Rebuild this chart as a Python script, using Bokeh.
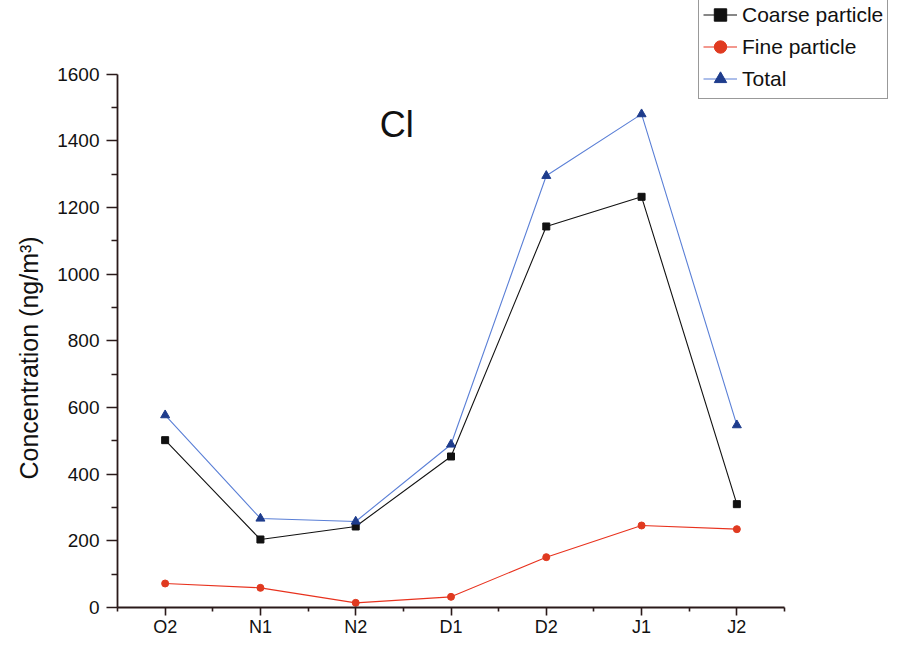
from bokeh.plotting import figure
from bokeh.models import FixedTicker, Range1d, Legend, LegendItem, Label, Title
from bokeh.embed import file_html
from bokeh.resources import INLINE

categories = ["O2", "N1", "N2", "D1", "D2", "J1", "J2"]
coarse = [502, 204, 243, 453, 1143, 1232, 310]
fine = [72, 59, 14, 32, 151, 246, 235]
total = [577, 267, 258, 489, 1295, 1480, 547]
y_ticks = [0, 200, 400, 600, 800, 1000, 1200, 1400, 1600]
y_minor = [100, 300, 500, 700, 900, 1100, 1300, 1500]

xs = list(range(1, len(categories) + 1))

# ---- layout (pixels) ----
W, H = 888, 639
LEFT = 117            # y axis position
BOTTOM_BORDER = 29    # space below x axis
AX_BOTTOM = H - BOTTOM_BORDER   # pixel of y = 0
AX_TOP = 74           # pixel of y = 1600
AX_RIGHT = 784        # pixel of x = 7.5
frame_h = AX_BOTTOM
frame_w = W - LEFT
px_per_y = (AX_BOTTOM - AX_TOP) / 1600.0
px_per_x = (AX_RIGHT - LEFT) / float(len(categories))
y_end = frame_h / px_per_y
x_end = 0.5 + frame_w / px_per_x

p = figure(width=W, height=H, output_backend="svg", toolbar_location=None,
           x_range=Range1d(0.5, x_end), y_range=Range1d(0, y_end),
           min_border_left=LEFT, min_border_right=0, min_border_top=0,
           min_border_bottom=BOTTOM_BORDER)
p.outline_line_color = None
p.xgrid.visible = False
p.ygrid.visible = False
p.background_fill_color = "white"
p.border_fill_color = "white"

FONT = "Liberation Sans"
AX = "#2a1a1a"

# x axis
p.xaxis.bounds = (0.5, len(categories) + 0.5)
p.xaxis.ticker = FixedTicker(ticks=xs, minor_ticks=[x + 0.5 for x in range(0, len(categories) + 1)])
p.xaxis.major_label_overrides = {x: c for x, c in zip(xs, categories)}
p.xaxis.major_label_text_font = FONT
p.xaxis.major_label_text_font_size = "18px"
p.xaxis.major_label_text_color = "#111"
p.xaxis.major_label_standoff = 1
p.xaxis.major_tick_out = 8
p.xaxis.major_tick_in = 0
p.xaxis.minor_tick_out = 4
p.xaxis.minor_tick_in = 0
p.xaxis.axis_line_width = 1.8
p.xaxis.major_tick_line_width = 1.6
p.xaxis.minor_tick_line_width = 1.6
p.xaxis.axis_line_color = AX
p.xaxis.major_tick_line_color = AX
p.xaxis.minor_tick_line_color = AX

# y axis
p.yaxis.bounds = (0, 1600)
p.yaxis.ticker = FixedTicker(ticks=y_ticks, minor_ticks=y_minor)
p.yaxis.major_label_text_font = FONT
p.yaxis.major_label_text_font_size = "19px"
p.yaxis.major_label_text_color = "#111"
p.yaxis.major_label_standoff = 7
p.yaxis.major_tick_out = 11
p.yaxis.major_tick_in = 0
p.yaxis.minor_tick_out = 6
p.yaxis.minor_tick_in = 0
p.yaxis.axis_line_width = 1.8
p.yaxis.major_tick_line_width = 1.6
p.yaxis.minor_tick_line_width = 1.6
p.yaxis.axis_line_color = AX
p.yaxis.major_tick_line_color = AX
p.yaxis.minor_tick_line_color = AX

# y axis title (as a side title so it can be placed along the drawn axis)
ytitle = Title(text="Concentration (ng/m³)", align="left", offset=128, standoff=24,
               text_font=FONT, text_font_size="25px", text_font_style="normal",
               text_color="#111")
p.add_layout(ytitle, "left")

# series
lc = p.line(xs, coarse, line_color="#111111", line_width=1.1)
mc = p.scatter(xs, coarse, marker="square", size=7, fill_color="#111111", line_color="#111111")
lf = p.line(xs, fine, line_color="#e8321e", line_width=1.1)
mf = p.scatter(xs, fine, marker="circle", size=7, fill_color="#e03a20", line_color="#e03a20")
lt = p.line(xs, total, line_color="#5a7fd6", line_width=1.1)
mt = p.scatter(xs, total, marker="triangle", size=9, fill_color="#1e3c8c", line_color="#1e3c8c")

legend = Legend(items=[
    LegendItem(label="Coarse particle", renderers=[lc, mc]),
    LegendItem(label="Fine particle", renderers=[lf, mf]),
    LegendItem(label="Total", renderers=[lt, mt]),
], location=(581, AX_BOTTOM - 102))
legend.label_text_font = FONT
legend.label_text_font_size = "21px"
legend.label_text_color = "#111"
legend.glyph_width = 34
legend.glyph_height = 31
legend.label_height = 31
legend.label_standoff = 5
legend.spacing = 1
legend.padding = 4
legend.margin = 0
legend.border_line_color = "#333333"
legend.border_line_width = 1.5
legend.background_fill_alpha = 1.0
p.add_layout(legend, "center")

p.add_layout(Label(x=3.43, y=1450, text="Cl", text_font=FONT, text_font_size="36px",
                   text_color="#111", text_align="center", text_baseline="middle"))

open("out.html", "w").write(file_html(p, INLINE))
